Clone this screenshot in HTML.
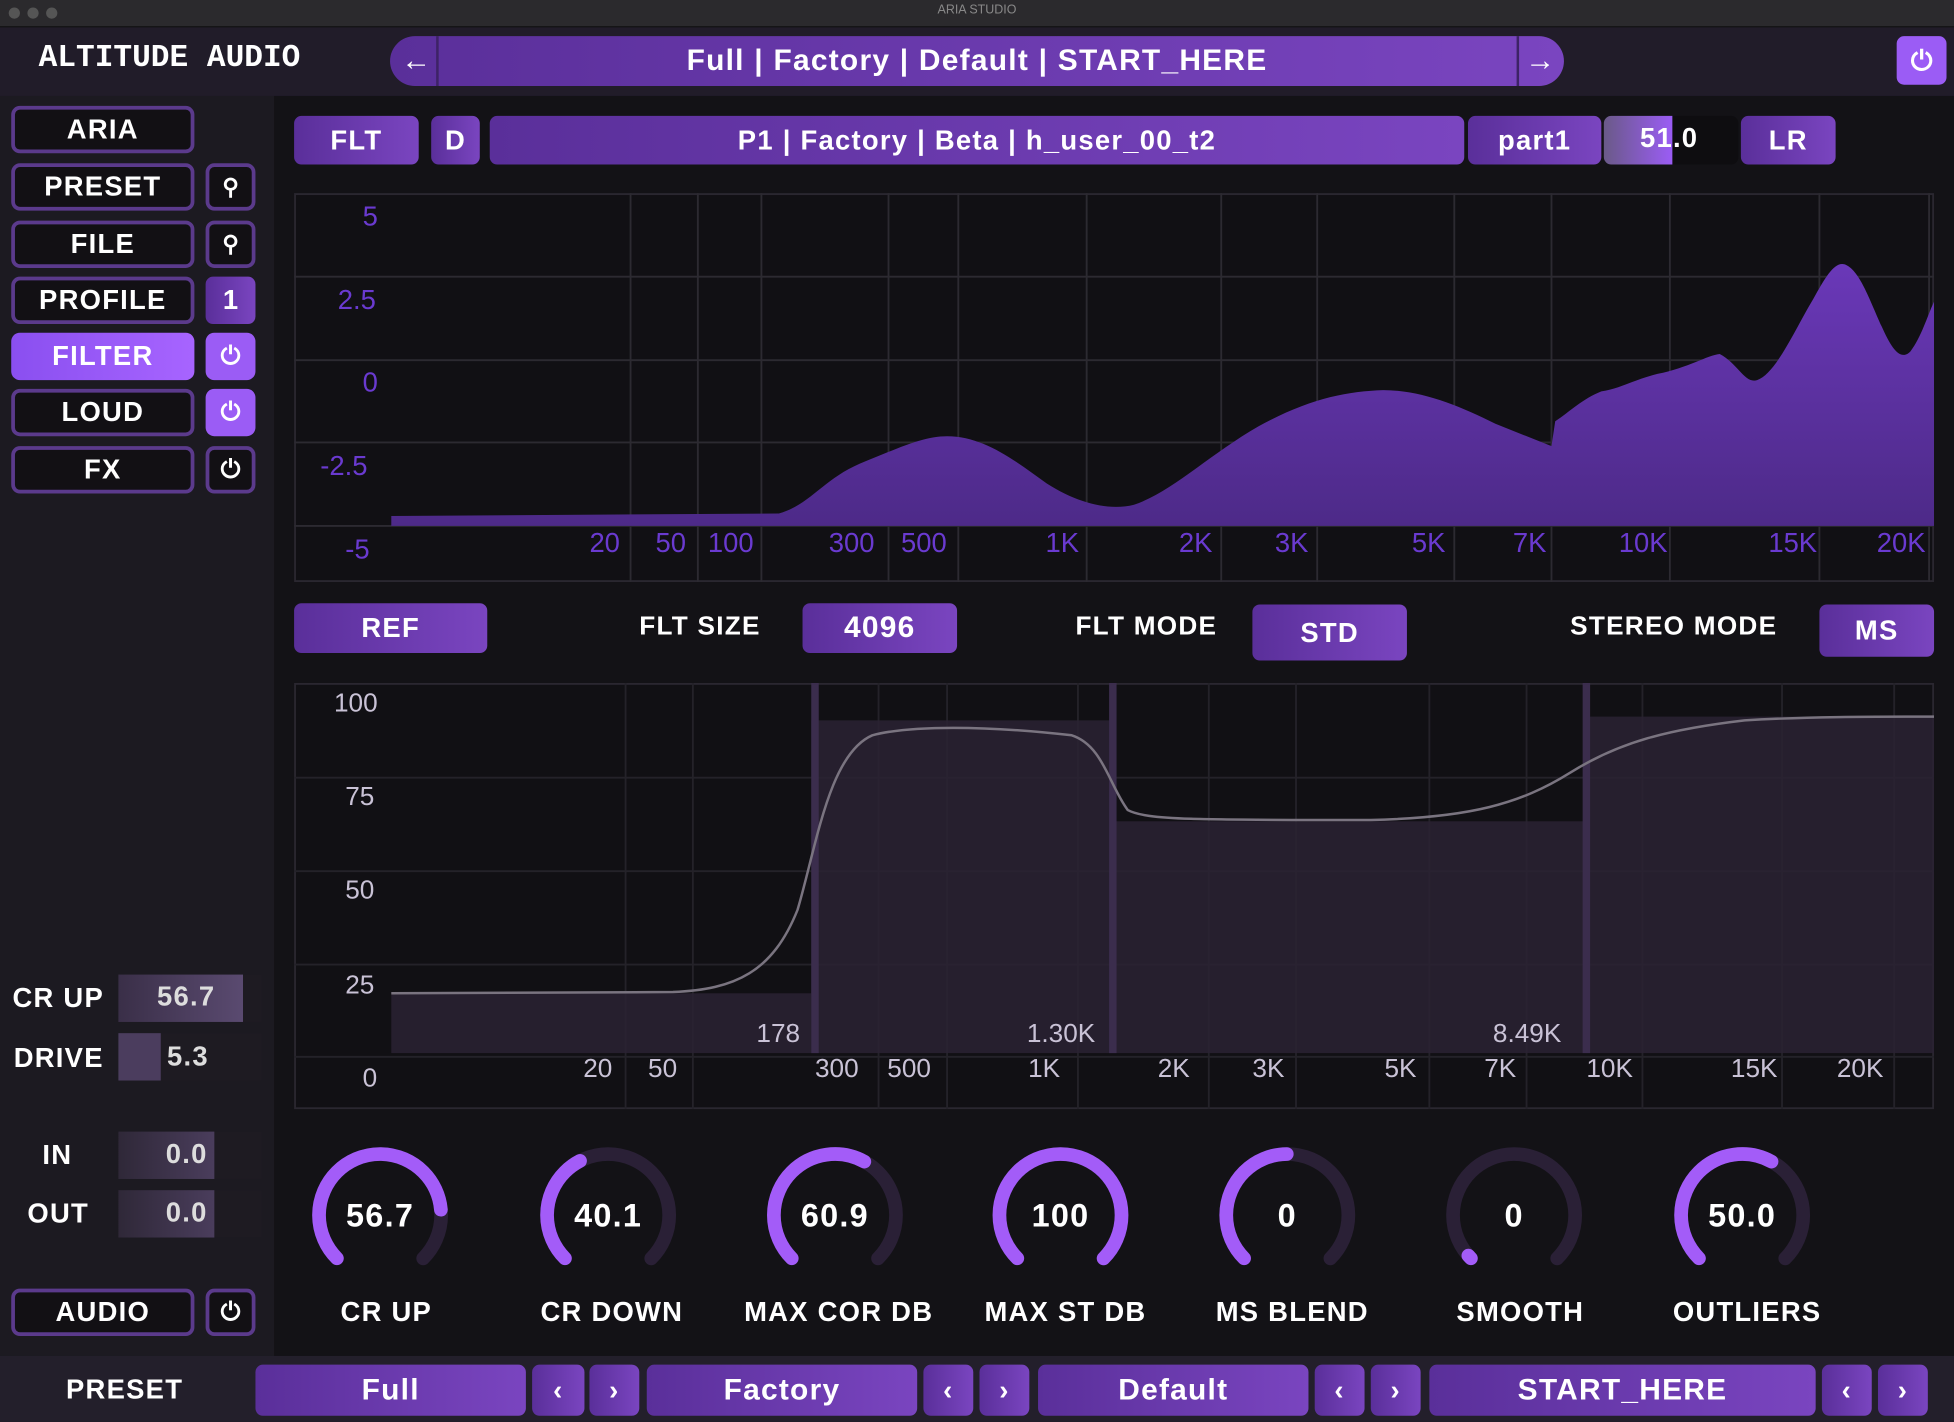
<!DOCTYPE html>
<html><head><meta charset="utf-8"><style>
*{margin:0;padding:0;box-sizing:border-box}
html,body{width:1954px;height:1422px;overflow:hidden;background:#17151b}
#s{position:absolute;left:0;top:0;width:1568px;height:1141px;transform:scale(1.24617,1.24627);transform-origin:0 0;font-family:"Liberation Sans",sans-serif;color:#fff;font-weight:bold;background:#17151b}
.a{position:absolute}
.c{display:flex;align-items:center;justify-content:center}
.pb{background:linear-gradient(90deg,#5a2f9a,#7a45c0);border-radius:6px}
.ob{border:3px solid #5b3a8c;border-radius:7px;background:#121014}
.t{font-size:22px;letter-spacing:1px}
.ax{position:absolute;color:#6a3ad0;font-weight:normal;font-size:22px}
.bx{position:absolute;color:#c9c2d6;font-weight:normal;font-size:21px}
</style></head><body><div id="s">
<div class="a" style="left:0;top:0;width:1568px;height:22px;background:#2b2a2d;border-bottom:1px solid #111"></div>
<div class="a" style="left:7px;top:6px;width:9px;height:9px;border-radius:50%;background:#555"></div>
<div class="a" style="left:22px;top:6px;width:9px;height:9px;border-radius:50%;background:#555"></div>
<div class="a" style="left:37px;top:6px;width:9px;height:9px;border-radius:50%;background:#555"></div>
<div class="a c" style="left:0;top:3px;width:1568px;font-size:10px;color:#888;font-weight:normal">ARIA STUDIO</div>
<div class="a" style="left:0;top:22px;width:1568px;height:55px;background:#211c29"></div>
<div class="a" style="left:31px;top:32px;font-family:'Liberation Mono',monospace;font-size:25px;letter-spacing:0">ALTITUDE AUDIO</div>
<div class="a c pb" style="left:313px;top:29px;width:942px;height:40px;border-radius:20px;font-size:24px;letter-spacing:1px">Full | Factory | Default | START_HERE</div>
<div class="a c" style="left:318px;top:29px;width:34px;height:40px;font-size:24px;border-right:2px solid #3d2366">←</div>
<div class="a c" style="left:1217px;top:29px;width:36px;height:40px;font-size:24px;border-left:2px solid #3d2366">→</div>
<div class="a c" style="left:1522px;top:29px;width:40px;height:39px;background:#9b5cf5;border-radius:6px;font-size:22px">⏻</div>
<div class="a" style="left:0;top:77px;width:220px;height:1011px;background:#1c1a21"></div>
<div class="a" style="left:220px;top:77px;width:1348px;height:1011px;background:#131216"></div>
<div class="a c ob t" style="left:9px;top:85px;width:147px;height:38px">ARIA</div>
<div class="a c ob t" style="left:9px;top:131px;width:147px;height:38px">PRESET</div>
<div class="a c ob t" style="left:9px;top:177px;width:147px;height:38px">FILE</div>
<div class="a c ob t" style="left:9px;top:222px;width:147px;height:38px">PROFILE</div>
<div class="a c t" style="left:9px;top:267px;width:147px;height:38px;background:linear-gradient(90deg,#8a4ff0,#a764ff);border-radius:7px">FILTER</div>
<div class="a c ob t" style="left:9px;top:312px;width:147px;height:38px">LOUD</div>
<div class="a c ob t" style="left:9px;top:358px;width:147px;height:38px">FX</div>
<div class="a c ob" style="left:165px;top:131px;width:40px;height:38px;font-size:18px">⚲</div>
<div class="a c ob" style="left:165px;top:177px;width:40px;height:38px;font-size:18px">⚲</div>
<div class="a c pb" style="left:165px;top:222px;width:40px;height:38px;font-size:22px">1</div>
<div class="a c" style="left:165px;top:267px;width:40px;height:38px;background:#9b5cf5;border-radius:7px;font-size:20px">⏻</div>
<div class="a c" style="left:165px;top:312px;width:40px;height:38px;background:#9b5cf5;border-radius:7px;font-size:20px">⏻</div>
<div class="a c ob" style="left:165px;top:358px;width:40px;height:38px;font-size:20px">⏻</div>
<div class="a t" style="left:10px;top:788px">CR UP</div>
<div class="a" style="left:95px;top:782px;width:115px;height:38px;background:#1e1b22"></div>
<div class="a" style="left:95px;top:782px;width:100px;height:38px;background:linear-gradient(90deg,#3a2f48,#5a4a70)"></div>
<div class="a t" style="left:126px;top:787px;color:#ddd">56.7</div>
<div class="a t" style="left:11px;top:836px">DRIVE</div>
<div class="a" style="left:95px;top:829px;width:115px;height:38px;background:#1e1b22"></div>
<div class="a" style="left:95px;top:829px;width:34px;height:38px;background:#4b3d5e"></div>
<div class="a t" style="left:134px;top:835px;color:#ddd">5.3</div>
<div class="a t" style="left:34px;top:914px">IN</div>
<div class="a" style="left:95px;top:908px;width:115px;height:38px;background:#1e1b22"></div>
<div class="a" style="left:95px;top:908px;width:77px;height:38px;background:linear-gradient(90deg,#2f2838,#4a3d5c)"></div>
<div class="a t" style="left:133px;top:913px;color:#ddd">0.0</div>
<div class="a t" style="left:22px;top:961px">OUT</div>
<div class="a" style="left:95px;top:955px;width:115px;height:38px;background:#1e1b22"></div>
<div class="a" style="left:95px;top:955px;width:77px;height:38px;background:linear-gradient(90deg,#2f2838,#4a3d5c)"></div>
<div class="a t" style="left:133px;top:960px;color:#ddd">0.0</div>
<div class="a c ob t" style="left:9px;top:1034px;width:147px;height:38px">AUDIO</div>
<div class="a c ob" style="left:165px;top:1034px;width:40px;height:38px;font-size:20px">⏻</div>
<!-- top row -->
<div class="a c pb t" style="left:236px;top:93px;width:100px;height:39px">FLT</div>
<div class="a c pb t" style="left:346px;top:93px;width:39px;height:39px">D</div>
<div class="a c pb t" style="left:393px;top:93px;width:782px;height:39px">P1 | Factory | Beta | h_user_00_t2</div>
<div class="a c pb t" style="left:1178px;top:93px;width:107px;height:39px">part1</div>
<div class="a" style="left:1287px;top:93px;width:108px;height:39px;background:#0e0d10;border-radius:6px"></div>
<div class="a" style="left:1287px;top:93px;width:55px;height:39px;background:linear-gradient(90deg,#6a5a88,#9b5cf5);border-radius:6px 0 0 6px"></div>
<div class="a t" style="left:1316px;top:98px">51.0</div>
<div class="a c pb t" style="left:1397px;top:93px;width:76px;height:39px">LR</div>
<!-- chart 1 -->
<svg class="a" style="left:236px;top:155px" width="1316" height="312" viewBox="236 155 1316 312">
<rect x="236" y="155" width="1316" height="312" fill="#111014" stroke="#2a2730" stroke-width="3"/>
<g stroke="#2c2a31" stroke-width="1.5">
<line x1="236" x2="1552" y1="222" y2="222"/><line x1="236" x2="1552" y1="289" y2="289"/><line x1="236" x2="1552" y1="355" y2="355"/><line x1="236" x2="1552" y1="422" y2="422"/>
<line x1="506" x2="506" y1="155" y2="467"/><line x1="560" x2="560" y1="155" y2="467"/><line x1="611" x2="611" y1="155" y2="467"/><line x1="713" x2="713" y1="155" y2="467"/><line x1="769" x2="769" y1="155" y2="467"/><line x1="872" x2="872" y1="155" y2="467"/><line x1="980" x2="980" y1="155" y2="467"/><line x1="1057" x2="1057" y1="155" y2="467"/><line x1="1167" x2="1167" y1="155" y2="467"/><line x1="1245" x2="1245" y1="155" y2="467"/><line x1="1340" x2="1340" y1="155" y2="467"/><line x1="1460" x2="1460" y1="155" y2="467"/><line x1="1548" x2="1548" y1="155" y2="467"/>
</g>
<defs><linearGradient id="g1" x1="0" y1="0" x2="0" y2="1"><stop offset="0" stop-color="#6a38b8"/><stop offset="1" stop-color="#4d2a88"/></linearGradient></defs>
<path fill="url(#g1)" d="M314,422 L314,414 L625,412 C650,405 660,385 690,372 C720,360 740,350 760,350 C790,350 815,370 840,388 C865,404 890,410 910,405 C940,395 970,365 1010,342 C1050,320 1080,314 1110,313 C1140,313 1170,325 1200,340 L1245,358 L1248,338 C1260,330 1270,320 1285,314 C1300,312 1310,305 1330,300 C1355,295 1370,285 1380,284 C1395,292 1400,308 1410,305 C1425,300 1440,265 1455,240 C1465,222 1472,210 1480,212 C1492,216 1500,240 1510,262 C1518,280 1525,290 1533,282 C1542,270 1546,255 1552,242 L1552,422 Z"/>
</svg>
<div class="ax" style="left:291px;top:161px">5</div>
<div class="ax" style="left:271px;top:228px">2.5</div>
<div class="ax" style="left:291px;top:294px">0</div>
<div class="ax" style="left:257px;top:361px">-2.5</div>
<div class="ax" style="left:277px;top:428px">-5</div>
<div class="ax" style="left:473px;top:423px">20</div><div class="ax" style="left:526px;top:423px">50</div><div class="ax" style="left:568px;top:423px">100</div><div class="ax" style="left:665px;top:423px">300</div><div class="ax" style="left:723px;top:423px">500</div><div class="ax" style="left:839px;top:423px">1K</div><div class="ax" style="left:946px;top:423px">2K</div><div class="ax" style="left:1023px;top:423px">3K</div><div class="ax" style="left:1133px;top:423px">5K</div><div class="ax" style="left:1214px;top:423px">7K</div><div class="ax" style="left:1299px;top:423px">10K</div><div class="ax" style="left:1419px;top:423px">15K</div><div class="ax" style="left:1506px;top:423px">20K</div>
<!-- mid row -->
<div class="a c pb t" style="left:236px;top:484px;width:155px;height:40px">REF</div>
<div class="a t" style="left:513px;top:491px;font-size:21px">FLT SIZE</div>
<div class="a c pb t" style="left:644px;top:484px;width:124px;height:40px;font-size:24px">4096</div>
<div class="a t" style="left:863px;top:491px;font-size:21px">FLT MODE</div>
<div class="a c pb t" style="left:1005px;top:485px;width:124px;height:45px">STD</div>
<div class="a t" style="left:1260px;top:491px;font-size:21px">STEREO MODE</div>
<div class="a c pb t" style="left:1460px;top:485px;width:92px;height:42px">MS</div>
<!-- chart 2 -->
<svg class="a" style="left:236px;top:548px" width="1316" height="342" viewBox="236 548 1316 342">
<rect x="236" y="548" width="1316" height="342" fill="#111014" stroke="#2a2730" stroke-width="3"/>
<g stroke="#242229" stroke-width="1.5">
<line x1="236" x2="1552" y1="624" y2="624"/><line x1="236" x2="1552" y1="699" y2="699"/><line x1="236" x2="1552" y1="774" y2="774"/><line x1="236" x2="1552" y1="848" y2="848"/>
<line x1="502" x2="502" y1="548" y2="890"/><line x1="556" x2="556" y1="548" y2="890"/><line x1="705" x2="705" y1="548" y2="890"/><line x1="760" x2="760" y1="548" y2="890"/><line x1="865" x2="865" y1="548" y2="890"/><line x1="970" x2="970" y1="548" y2="890"/><line x1="1040" x2="1040" y1="548" y2="890"/><line x1="1147" x2="1147" y1="548" y2="890"/><line x1="1225" x2="1225" y1="548" y2="890"/><line x1="1318" x2="1318" y1="548" y2="890"/><line x1="1430" x2="1430" y1="548" y2="890"/><line x1="1520" x2="1520" y1="548" y2="890"/>
</g>
<rect x="314" y="797" width="337" height="48" fill="#2a2233" opacity="0.85"/>
<rect x="651" y="578" width="241" height="267" fill="#2a2233" opacity="0.85"/>
<rect x="892" y="659" width="380" height="186" fill="#2a2233" opacity="0.85"/>
<rect x="1272" y="575" width="280" height="270" fill="#2a2233" opacity="0.85"/>
<rect x="651" y="548" width="6" height="297" fill="#3b2d4d"/>
<rect x="890" y="548" width="6" height="297" fill="#3b2d4d"/>
<rect x="1270" y="548" width="6" height="297" fill="#3b2d4d"/>
<path fill="none" stroke="#7a7480" stroke-width="2" d="M314,797 L540,796 C590,794 620,780 640,730 C655,680 665,605 700,590 C730,582 790,582 860,590 C885,598 890,630 905,650 C920,658 960,658 1100,658 C1180,656 1220,645 1260,620 C1300,595 1340,585 1400,578 C1450,575 1500,575 1552,575"/>
</svg>
<div class="bx" style="left:268px;top:553px">100</div>
<div class="bx" style="left:277px;top:628px">75</div>
<div class="bx" style="left:277px;top:703px">50</div>
<div class="bx" style="left:277px;top:779px">25</div>
<div class="bx" style="left:291px;top:854px">0</div>
<div class="bx" style="left:607px;top:818px">178</div>
<div class="bx" style="left:824px;top:818px">1.30K</div>
<div class="bx" style="left:1198px;top:818px">8.49K</div>
<div class="bx" style="left:468px;top:846px">20</div><div class="bx" style="left:520px;top:846px">50</div><div class="bx" style="left:654px;top:846px">300</div><div class="bx" style="left:712px;top:846px">500</div><div class="bx" style="left:825px;top:846px">1K</div><div class="bx" style="left:929px;top:846px">2K</div><div class="bx" style="left:1005px;top:846px">3K</div><div class="bx" style="left:1111px;top:846px">5K</div><div class="bx" style="left:1191px;top:846px">7K</div><div class="bx" style="left:1273px;top:846px">10K</div><div class="bx" style="left:1389px;top:846px">15K</div><div class="bx" style="left:1474px;top:846px">20K</div>
<!-- knobs -->
<svg class="a" style="left:0;top:0" width="1568" height="1141">
<g fill="none" stroke-width="11" stroke-linecap="round">
<g transform="translate(305,975) rotate(135)"><circle r="49" stroke="#2a2036" stroke-dasharray="230.9 1000"/><circle r="49" stroke="#a35cf8" stroke-dasharray="188 1000"/></g>
<g transform="translate(488,975) rotate(135)"><circle r="49" stroke="#2a2036" stroke-dasharray="230.9 1000"/><circle r="49" stroke="#a35cf8" stroke-dasharray="92 1000"/></g>
<g transform="translate(670,975) rotate(135)"><circle r="49" stroke="#2a2036" stroke-dasharray="230.9 1000"/><circle r="49" stroke="#a35cf8" stroke-dasharray="140 1000"/></g>
<g transform="translate(851,975) rotate(135)"><circle r="49" stroke="#2a2036" stroke-dasharray="230.9 1000"/><circle r="49" stroke="#a35cf8" stroke-dasharray="230.9 1000"/></g>
<g transform="translate(1033,975) rotate(135)"><circle r="49" stroke="#2a2036" stroke-dasharray="230.9 1000"/><circle r="49" stroke="#a35cf8" stroke-dasharray="115 1000"/></g>
<g transform="translate(1215,975) rotate(135)"><circle r="49" stroke="#2a2036" stroke-dasharray="230.9 1000"/><circle r="49" stroke="#a35cf8" stroke-dasharray="3 1000"/></g>
<g transform="translate(1398,975) rotate(135)"><circle r="49" stroke="#2a2036" stroke-dasharray="230.9 1000"/><circle r="49" stroke="#a35cf8" stroke-dasharray="140 1000"/></g>
</g></svg>
<div class="a c t" style="left:255px;top:960px;width:100px;font-size:26px">56.7</div>
<div class="a c t" style="left:438px;top:960px;width:100px;font-size:26px">40.1</div>
<div class="a c t" style="left:620px;top:960px;width:100px;font-size:26px">60.9</div>
<div class="a c t" style="left:801px;top:960px;width:100px;font-size:26px">100</div>
<div class="a c t" style="left:983px;top:960px;width:100px;font-size:26px">0</div>
<div class="a c t" style="left:1165px;top:960px;width:100px;font-size:26px">0</div>
<div class="a c t" style="left:1348px;top:960px;width:100px;font-size:26px">50.0</div>
<div class="a c t" style="left:235px;top:1040px;width:150px">CR UP</div>
<div class="a c t" style="left:408px;top:1040px;width:166px">CR DOWN</div>
<div class="a c t" style="left:583px;top:1040px;width:180px">MAX COR DB</div>
<div class="a c t" style="left:775px;top:1040px;width:160px">MAX ST DB</div>
<div class="a c t" style="left:957px;top:1040px;width:160px">MS BLEND</div>
<div class="a c t" style="left:1140px;top:1040px;width:160px">SMOOTH</div>
<div class="a c t" style="left:1322px;top:1040px;width:160px">OUTLIERS</div>
<!-- bottom -->
<div class="a" style="left:0;top:1088px;width:1568px;height:53px;background:#231f2b"></div>
<div class="a c t" style="left:0;top:1095px;width:200px;height:40px">PRESET</div>
<div class="a c pb t" style="left:205px;top:1095px;width:217px;height:41px;font-size:24px">Full</div>
<div class="a c pb t" style="left:427px;top:1095px;width:42px;height:41px">‹</div>
<div class="a c pb t" style="left:473px;top:1095px;width:40px;height:41px">›</div>
<div class="a c pb t" style="left:519px;top:1095px;width:217px;height:41px;font-size:24px">Factory</div>
<div class="a c pb t" style="left:741px;top:1095px;width:40px;height:41px">‹</div>
<div class="a c pb t" style="left:786px;top:1095px;width:40px;height:41px">›</div>
<div class="a c pb t" style="left:833px;top:1095px;width:217px;height:41px;font-size:24px">Default</div>
<div class="a c pb t" style="left:1055px;top:1095px;width:40px;height:41px">‹</div>
<div class="a c pb t" style="left:1100px;top:1095px;width:40px;height:41px">›</div>
<div class="a c pb t" style="left:1147px;top:1095px;width:310px;height:41px;font-size:24px">START_HERE</div>
<div class="a c pb t" style="left:1462px;top:1095px;width:40px;height:41px">‹</div>
<div class="a c pb t" style="left:1507px;top:1095px;width:40px;height:41px">›</div>
</div></body></html>
